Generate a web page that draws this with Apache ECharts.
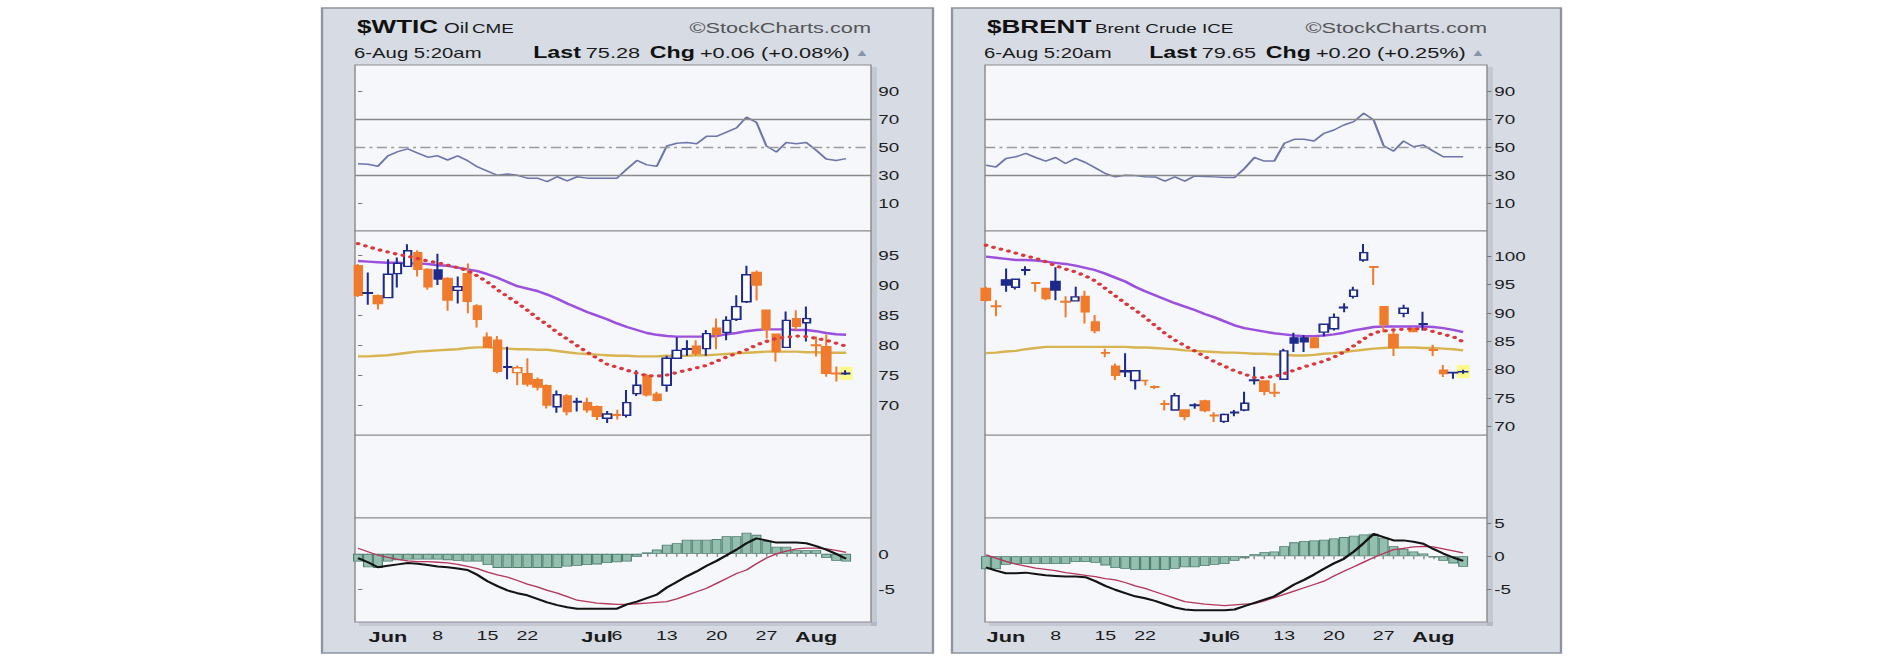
<!DOCTYPE html>
<html><head><meta charset="utf-8"><title>$WTIC / $BRENT</title>
<script src="https://cdn.jsdelivr.net/npm/echarts@6.0.0/dist/echarts.min.js"></script>
<style>
html,body{margin:0;padding:0;background:#ffffff;width:1886px;height:662px;overflow:hidden}
#stretch{position:absolute;left:0;top:0;height:662px;transform-origin:0 0}
#chart{width:100%;height:100%}
</style></head><body>
<div id="stretch"><div id="chart"></div></div>
<script>
// ---------------- data ----------------
const dates = ['May 27','May 28','May 29','Jun 1','Jun 2','Jun 3','Jun 4','Jun 5','Jun 8','Jun 9','Jun 10','Jun 11','Jun 12','Jun 15','Jun 16','Jun 17','Jun 18','Jun 22','Jun 23','Jun 24','Jun 25','Jun 26','Jun 29','Jun 30','Jul 1','Jul 2','Jul 6','Jul 7','Jul 8','Jul 9','Jul 10','Jul 13','Jul 14','Jul 15','Jul 16','Jul 17','Jul 20','Jul 21','Jul 22','Jul 23','Jul 24','Jul 27','Jul 28','Jul 29','Jul 30','Jul 31','Aug 3','Aug 4','Aug 5','Aug 6'];
const tickDates = ['Jun 1','Jun 8','Jun 15','Jun 22','Jul 1','Jul 6','Jul 13','Jul 20','Jul 27','Aug 3'];
const tickTexts = ['Jun','8','15','22','Jul','6','13','20','27','Aug'];
const stampText = '6-Aug 5:20am';
const rsiTicks = [10,30,50,70,90];

// $WTIC  (Oil, CME)
const wtiOpen  = [93.2,88.7,88.2,87.9,91.9,93.1,95.4,92.6,92.5,91.1,89.1,91.9,86.5,81.3,80.8,76.3,75.4,75.2,74.2,73.2,69.7,71.5,70.5,70.4,69.7,67.8,68.4,68.3,71.9,74.9,71.8,73.3,77.8,79.3,79.8,79.4,82.8,82.1,84.3,87.2,92.1,85.8,81.8,79.6,84.4,83.7,80.0,79.7,75.3,75.2];
const wtiClose = [88.3,88.6,86.9,91.8,93.6,95.7,92.6,89.7,91.0,87.5,89.7,87.3,84.3,79.6,75.6,76.4,76.2,73.5,73.0,70.0,71.7,68.9,70.6,69.2,68.1,68.5,68.3,70.4,73.3,71.7,70.8,77.8,79.1,79.4,78.6,81.9,81.8,84.1,86.4,91.7,90.0,82.6,78.9,84.1,83.1,84.4,79.9,75.3,75.22,75.28];
const wtiLow   = [88.0,86.7,85.9,87.8,89.6,93.0,91.4,89.2,90.0,85.7,86.9,85.3,82.9,79.5,75.3,74.3,73.3,73.1,72.4,69.4,68.7,68.3,68.9,68.7,67.5,67.0,67.6,67.9,71.5,71.4,70.6,72.2,77.8,78.2,78.2,78.2,79.3,80.8,84.0,87.0,87.4,81.1,77.2,79.6,82.5,80.6,78.1,74.7,73.9,75.0];
const wtiHigh  = [93.5,92.1,88.4,94.3,94.6,96.8,95.8,92.8,95.2,91.3,91.4,93.6,86.8,82.1,81.5,79.7,76.6,77.8,74.6,73.4,72.4,71.8,71.2,71.2,69.9,69.0,69.2,72.5,75.8,75.2,72.2,78.2,81.3,80.8,80.8,82.5,84.4,84.8,88.3,93.2,92.4,85.8,81.8,85.6,85.8,86.4,81.4,81.7,76.4,75.8];
const wtiSma50  = [94.0,93.9,93.8,93.7,93.7,93.6,93.6,93.5,93.3,93.2,92.9,92.6,92.3,91.8,91.2,90.5,89.8,89.4,89.0,88.4,87.7,86.9,86.2,85.5,84.9,84.3,83.6,83.0,82.5,82.0,81.7,81.5,81.4,81.4,81.4,81.4,81.5,81.8,82.0,82.3,82.5,82.6,82.6,82.6,82.5,82.5,82.3,82.0,81.8,81.7];
const wtiSma200 = [78.1,78.1,78.2,78.3,78.5,78.7,78.9,79.0,79.1,79.2,79.3,79.5,79.6,79.6,79.5,79.4,79.3,79.3,79.2,79.2,79.0,78.8,78.6,78.5,78.4,78.3,78.2,78.2,78.1,78.1,78.1,78.2,78.2,78.2,78.3,78.3,78.4,78.5,78.6,78.7,78.8,78.9,78.9,78.9,78.9,78.8,78.8,78.7,78.7,78.7];
const wtiEma20  = [96.9,96.4,95.9,95.5,95.1,94.8,94.4,94.0,93.7,93.3,92.9,92.4,91.5,90.5,89.2,88.1,87.0,85.8,84.5,83.4,82.1,81.0,79.9,78.8,77.8,76.8,76.3,75.8,75.3,74.9,74.8,75.0,75.4,75.8,76.2,76.6,77.3,78.0,78.6,79.2,80.0,80.6,81.1,81.3,81.5,81.4,81.1,80.8,80.3,79.8];
const wtiRsi    = [38.3,38,36.5,44,47,49,46,43,44,41,44,40.5,36,33,30,31,30,28,28,25.5,29,26,29,28,28,28,28,34.5,40.7,37.5,36.5,51,53,53.6,52.6,58,58,61,64,71.7,68,51,46.7,53.6,52.6,53.6,48,41.7,40.7,42];
const wtiMacd   = [-0.6,-1.2,-1.9,-1.7,-1.5,-1.3,-1.4,-1.6,-1.8,-1.9,-2.1,-2.3,-3.0,-3.9,-4.6,-5.2,-5.6,-5.9,-6.4,-6.9,-7.3,-7.6,-7.8,-7.8,-7.8,-7.8,-7.8,-7.2,-6.8,-6.3,-5.8,-4.8,-4.0,-3.2,-2.5,-1.7,-1.0,-0.2,0.6,1.5,2.2,1.9,1.6,1.6,1.6,1.5,1.1,0.6,0.0,-0.7];
const wtiSignal = [0.8,0.3,-0.2,-0.5,-0.8,-1.0,-1.1,-1.1,-1.2,-1.3,-1.5,-1.8,-2.1,-2.6,-3.0,-3.3,-3.8,-4.3,-4.7,-5.2,-5.6,-6.1,-6.6,-6.8,-7.0,-7.1,-7.2,-7.2,-7.1,-7.0,-6.9,-6.8,-6.4,-5.9,-5.4,-4.9,-4.2,-3.5,-2.8,-2.3,-1.4,-0.6,0.0,0.4,0.7,0.8,0.8,0.7,0.5,0.2];
const wtiHist   = [-1.1,-1.9,-2.0,-1.1,-0.9,-0.8,-0.8,-0.8,-0.8,-0.9,-1.0,-1.1,-1.1,-1.6,-2.0,-2.0,-2.0,-2.0,-2.0,-2.0,-2.0,-1.8,-1.7,-1.6,-1.5,-1.3,-1.2,-1.1,-0.4,0.2,0.6,1.3,1.5,2.0,2.0,2.0,2.1,2.5,2.5,3.0,2.7,1.8,1.0,1.0,0.5,0.5,0.5,-0.6,-1.0,-1.1];

// $BRENT  (Brent Crude, ICE) - first session not shown
const brOpen  = [null,94.3,91.2,95.8,94.5,97.6,95.3,94.3,95.5,92.0,92.1,92.9,88.4,83.0,80.6,79.8,78.1,78.1,77.0,74.0,72.9,72.9,73.8,74.5,72.0,70.9,72.5,72.9,78.2,78.0,76.0,78.3,85.6,85.6,85.6,86.6,87.2,91.0,92.9,99.3,98.1,91.1,86.2,89.9,87.2,88.1,83.5,79.9,79.5,79.6];
const brClose = [null,92.2,91.1,94.9,95.9,97.5,95.2,92.5,94.0,91.9,92.8,90.2,86.9,82.9,79.0,79.6,79.8,78.1,76.9,73.9,75.4,71.8,73.7,72.8,71.9,72.1,72.4,74.1,78.1,76.2,75.9,83.3,84.7,84.9,83.9,88.0,89.2,90.9,94.0,100.6,98.0,88.0,83.9,90.8,86.7,88.0,83.4,79.3,79.45,79.65];
const brLow   = [null,92.0,89.4,93.7,94.1,96.6,93.7,92.2,92.2,89.2,92.1,88.1,86.4,82.2,78.2,78.7,76.5,77.2,76.6,72.8,72.9,71.1,73.1,72.5,70.8,70.6,71.8,72.7,77.4,75.5,75.2,78.3,83.1,83.1,83.9,85.9,86.9,90.1,92.5,99.0,94.9,86.6,82.4,89.2,86.6,86.9,82.4,78.7,78.4,79.3];
const brHigh  = [null,94.6,92.2,97.8,96.0,98.2,95.4,94.4,98.0,92.9,94.6,93.9,89.6,83.7,81.1,82.9,79.9,78.2,77.2,74.6,75.9,72.9,74.1,74.7,72.5,72.3,72.9,76.1,80.5,78.0,77.6,83.7,86.5,86.1,85.6,88.0,89.9,91.7,94.6,102.1,98.2,91.1,86.9,91.4,87.2,90.2,84.4,80.8,79.6,80.0];
const brSma50  = [null,99.9,99.7,99.5,99.3,99.3,99.2,99.0,98.8,98.6,98.3,97.9,97.5,96.9,96.2,95.5,94.6,93.8,93.1,92.4,91.7,91.1,90.5,89.8,89.2,88.5,87.8,87.3,87.0,86.7,86.4,86.2,86.0,85.9,85.9,86.0,86.2,86.5,86.9,87.2,87.5,87.6,87.6,87.6,87.6,87.6,87.5,87.3,87.0,86.6];
const brSma200 = [null,82.9,83.0,83.2,83.3,83.6,83.8,84.0,84.0,84.0,84.0,84.0,84.0,84.0,84.0,84.0,83.9,83.9,83.8,83.7,83.6,83.4,83.3,83.2,83.1,83.0,83.0,82.9,82.8,82.8,82.7,82.6,82.5,82.5,82.6,82.8,82.9,83.1,83.3,83.5,83.7,83.8,83.9,83.9,83.9,83.8,83.8,83.7,83.6,83.4];
const brEma20  = [null,101.9,101.4,101.0,100.5,100.0,99.6,99.0,98.3,97.7,97.2,96.5,95.6,94.3,93.0,91.7,90.5,89.2,87.8,86.4,85.2,84.2,83.3,82.3,81.4,80.6,79.8,79.2,78.6,78.6,78.8,79.3,79.9,80.5,81.0,81.5,82.2,83.1,84.2,85.4,86.5,86.8,87.0,87.1,87.2,87.2,86.7,86.2,85.8,84.9];
const brRsi    = [null,37.3,36,42.1,43.3,45.7,42.8,40.2,42.8,38.5,42.1,39.2,35.4,31.3,28.9,30.1,29.8,29.0,28.9,25.8,28.9,25.8,29.6,29.2,28.9,28.4,28.4,34.9,42.8,40.2,40.2,52.9,55.8,55.8,54.6,60.1,62.5,66.1,68.5,74.5,69.7,51.2,47.4,54.6,50.5,51.7,47.4,43.3,43.3,43.3];
const brMacd   = [null,-1.7,-2.2,-2.6,-2.6,-2.5,-2.7,-2.9,-3.0,-3.1,-3.1,-3.2,-3.8,-4.5,-5.1,-5.6,-6.1,-6.4,-6.8,-7.3,-7.8,-8.1,-8.2,-8.2,-8.2,-8.2,-8.1,-7.6,-7.1,-6.6,-6.1,-5.2,-4.3,-3.6,-2.8,-1.9,-1.1,-0.4,0.7,2.0,3.4,2.9,2.4,2.4,2.2,1.9,1.1,0.4,-0.2,-0.7];
const brSignal = [null,0.2,-0.3,-0.8,-1.2,-1.5,-1.8,-2.0,-2.2,-2.5,-2.7,-2.9,-3.1,-3.4,-3.6,-4.0,-4.5,-4.9,-5.4,-5.9,-6.4,-6.9,-7.1,-7.3,-7.4,-7.5,-7.4,-7.3,-7.2,-6.8,-6.3,-5.8,-5.3,-4.8,-4.3,-3.8,-3.0,-2.3,-1.6,-0.9,-0.2,0.4,1.0,1.2,1.4,1.5,1.4,1.1,0.8,0.5];
const brHist   = [null,-2.0,-2.0,-1.3,-1.2,-1.2,-1.2,-1.2,-1.2,-1.2,-0.9,-0.9,-1.0,-1.4,-1.8,-1.9,-2.1,-2.1,-2.1,-2.1,-1.9,-1.7,-1.7,-1.5,-1.3,-1.2,-0.7,-0.3,0.3,0.6,0.7,1.5,2.1,2.3,2.4,2.5,2.7,2.9,3.1,3.3,3.4,2.8,1.5,1.1,0.7,0.4,-0.2,-0.7,-1.1,-1.6];

// ---------------- layout / style ----------------
const PAGE_W = 1886, CHART_W = 1300, S = PAGE_W / CHART_W;   // the reference is stretched horizontally
const X = v => v / S;
const FONT = '"Liberation Sans", Arial, Helvetica, sans-serif';
const BLUE = '#1c2a8c', ORANGE = '#f07b2c';
const PLOT_BG = '#f6f7fb', PLOT_BORDER = '#8c8c8c';

const wrap = document.getElementById('stretch');
wrap.style.width = CHART_W + 'px';
wrap.style.transform = 'scaleX(' + S + ')';

const panels = [
  { frameL:322, frameR:933, plotL:355, plotR:871, xMin:-0.3, xMax:51.5,
    priceMin:65, priceMax:99, priceTicks:[70,75,80,85,90,95],
    macdMin:-9.7, macdMax:5.1, macdTicks:[-5,0],
    symbol:'$WTIC', name:'Oil', exch:'CME', nameX:444, exchX:472, nameSize:14,
    open:wtiOpen, close:wtiClose, low:wtiLow, high:wtiHigh,
    sma50:wtiSma50, sma200:wtiSma200, ema20:wtiEma20, rsi:wtiRsi, macd:wtiMacd, signal:wtiSignal, hist:wtiHist },
  { frameL:952, frameR:1561, plotL:985, plotR:1487, xMin:0.9, xMax:51.4,
    priceMin:68.5, priceMax:104.4, priceTicks:[70,75,80,85,90,95,100],
    macdMin:-10, macdMax:5.8, macdTicks:[-5,0,5],
    symbol:'$BRENT', name:'Brent Crude', exch:'ICE', nameX:1095, exchX:1202, nameSize:13,
    open:brOpen, close:brClose, low:brLow, high:brHigh,
    sma50:brSma50, sma200:brSma200, ema20:brEma20, rsi:brRsi, macd:brMacd, signal:brSignal, hist:brHist }
];

const dayIdx = dates.map((d, i) => i);
const labelIdx = tickDates.map(d => dates.indexOf(d));
function xLabel(v) {
  const i = Math.round(v);
  const k = labelIdx.indexOf(i);
  if (k < 0) return '';
  const t = tickTexts[k];
  return /[A-Za-z]/.test(t) ? '{m|' + t + '}' : '{n|' + t + '}';
}
const pts = arr => arr.map((v, i) => v == null ? null : [i, v]).filter(Boolean);

const grids = [], xAxes = [], yAxes = [], series = [], graphics = [];

function text(x, y, str, font, fill, align, extra) {
  return Object.assign({ type:'text', x:X(x), y:y, z:10, silent:true,
    style:{ text:str, font:font, fill:fill, textAlign:align || 'left', textVerticalAlign:'middle', align:align || 'left', verticalAlign:'middle' } }, extra || {});
}

panels.forEach((P, p) => {
  const L = X(P.plotL), Wd = X(P.plotR - P.plotL);
  const rows = [
    { top:65,  h:166, min:-9.9, max:109.1, ticks:rsiTicks },
    { top:231, h:204, min:P.priceMin, max:P.priceMax, ticks:P.priceTicks },
    { top:518, h:104, min:P.macdMin, max:P.macdMax, ticks:P.macdTicks }
  ];
  const base = grids.length;
  rows.forEach((r, k) => {
    const gi = grids.length;
    grids.push({ left:L, top:r.top, width:Wd, height:r.h, show:true, backgroundColor:PLOT_BG,
      borderColor:PLOT_BORDER, borderWidth:1, containLabel:false, outerBoundsMode:'none' });
    xAxes.push({ type:'value', gridIndex:gi, min:P.xMin, max:P.xMax, show:k === 2, position:'bottom',
      axisLine:{ show:false }, splitLine:{ show:false },
      axisTick:{ show:true, length:3, customValues:dayIdx, lineStyle:{ color:'#8a8a8a', width:1 } },
      axisLabel:{ show:true, customValues:labelIdx, margin:7, formatter:xLabel, color:'#1a1a1a',
        rich:{ m:{ fontFamily:FONT, fontWeight:'bold', fontSize:15, color:'#1a1a1a' },
               n:{ fontFamily:FONT, fontSize:13.5, color:'#1a1a1a' } } } });
    yAxes.push({ type:'value', gridIndex:gi, position:'right', min:r.min, max:r.max,
      axisLine:{ show:false }, splitLine:{ show:false },
      axisTick:{ show:true, length:3, customValues:r.ticks, lineStyle:{ color:'#777', width:1 } },
      axisLabel:{ show:true, customValues:r.ticks, margin:5, color:'#1e1e1e', fontSize:13, fontFamily:FONT } });
  });
  const gR = base, gP = base + 1, gM = base + 2;

  // RSI
  series.push({ type:'line', xAxisIndex:gR, yAxisIndex:gR, data:pts(P.rsi), symbol:'none', z:3,
    lineStyle:{ color:'#6d75aa', width:1.5 },
    markLine:{ silent:true, symbol:'none', animation:false, label:{ show:false },
      data:[ { yAxis:70, lineStyle:{ color:'#8a8a8a', width:1.4, type:'solid' } },
             { yAxis:30, lineStyle:{ color:'#8a8a8a', width:1.4, type:'solid' } },
             { yAxis:50, lineStyle:{ color:'#9a9a9a', width:1.3, type:[7,3,2,3] } } ] } });

  // price: candles coloured by close vs previous close, hollow when close > open
  const candles = [];
  let lastI = -1;
  P.close.forEach((c, i) => {
    if (c == null) return;
    const o = P.open[i];
    const prev = (i > 0 && P.close[i - 1] != null) ? P.close[i - 1] : o;
    const col = c >= prev ? BLUE : ORANGE;
    const fill = c > o ? '#ffffff' : col;
    candles.push({ value:[i, o, c, P.low[i], P.high[i]],
      itemStyle:{ color:fill, color0:fill, borderColor:col, borderColor0:col } });
    lastI = i;
  });
  series.push({ type:'scatter', xAxisIndex:gP, yAxisIndex:gP, z:1, silent:true,
    data:[[lastI, P.close[lastI]]], symbol:'rect', symbolSize:[X(13), 13],
    itemStyle:{ color:'#fbf98a', opacity:1 } });
  series.push({ type:'line', xAxisIndex:gP, yAxisIndex:gP, data:pts(P.sma200), symbol:'none', z:2,
    lineStyle:{ color:'#d8b450', width:2.4 } });
  series.push({ type:'line', xAxisIndex:gP, yAxisIndex:gP, data:pts(P.sma50), symbol:'none', z:2,
    lineStyle:{ color:'#9b50de', width:2.4 } });
  series.push({ type:'candlestick', xAxisIndex:gP, yAxisIndex:gP, data:candles, barWidth:X(8.5), z:3,
    itemStyle:{ borderWidth:1.4 } });
  series.push({ type:'line', xAxisIndex:gP, yAxisIndex:gP, data:pts(P.ema20), symbol:'none', z:4,
    lineStyle:{ color:'#d9393c', width:3.2, type:[0.1, 5.4], cap:'round' } });

  // MACD
  series.push({ type:'bar', xAxisIndex:gM, yAxisIndex:gM, data:pts(P.hist), barWidth:'100%', z:2,
    itemStyle:{ color:'#94bfae', borderColor:'#4f7f70', borderWidth:0.8 } });
  series.push({ type:'line', xAxisIndex:gM, yAxisIndex:gM, data:pts(P.signal), symbol:'none', z:3,
    lineStyle:{ color:'#b5385c', width:1.3 } });
  series.push({ type:'line', xAxisIndex:gM, yAxisIndex:gM, data:pts(P.macd), symbol:'none', z:4,
    lineStyle:{ color:'#141414', width:2 } });

  // frame, empty middle panel, shadows
  graphics.push({ type:'rect', z:-3, silent:true,
    shape:{ x:X(P.frameL), y:8, width:X(P.frameR - P.frameL), height:645 },
    style:{ fill:'#d6dbe4', stroke:'#8f959f', lineWidth:1.6 } });
  graphics.push({ type:'rect', z:-2, silent:true,
    shape:{ x:X(P.plotR), y:67, width:X(6), height:559 },
    style:{ fill:'rgba(70,80,100,0.13)' } });
  graphics.push({ type:'rect', z:-2, silent:true,
    shape:{ x:X(P.plotL + 4), y:622, width:X(P.plotR - P.plotL + 2), height:4 },
    style:{ fill:'rgba(70,80,100,0.13)' } });
  graphics.push({ type:'rect', z:-1, silent:true,
    shape:{ x:L, y:435, width:Wd, height:83 },
    style:{ fill:PLOT_BG, stroke:PLOT_BORDER, lineWidth:1 } });

  // header texts
  const last = P.close[lastI], prevC = P.close[lastI - 1];
  const chg = last - prevC, pct = chg / prevC * 100;
  const sg = v => (v >= 0 ? '+' : '') + v.toFixed(2);
  graphics.push(text(P.plotL + 2, 26.5, P.symbol, 'bold 18px ' + FONT, '#111'));
  graphics.push(text(P.nameX, 28, P.name, P.nameSize + 'px ' + FONT, '#1a1a1a'));
  graphics.push(text(P.exchX, 28.5, P.exch, '13px ' + FONT, '#1a1a1a'));
  graphics.push(text(P.plotR, 28, '\u00A9StockCharts.com', '15px ' + FONT, '#555', 'right'));
  graphics.push(text(P.plotL - 1, 53, stampText, '14px ' + FONT, '#1a1a1a'));
  graphics.push({ type:'text', x:X(P.plotR - 2), y:52.5, z:10, silent:true,
    style:{ text:'{b|Last} {n|' + last.toFixed(2) + '}  {b|Chg} {n|' + sg(chg) + ' (' + sg(pct) + '%)} {t|\u25B2}',
      textAlign:'right', align:'right', textVerticalAlign:'middle', verticalAlign:'middle',
      rich:{ b:{ font:'bold 16px ' + FONT, fill:'#111' },
             n:{ font:'15px ' + FONT, fill:'#1a1a1a' },
             t:{ font:'10px ' + FONT, fill:'#8596ad' } } } });
});

const chart = echarts.init(document.getElementById('chart'), null, { renderer:'svg', width:CHART_W, height:662 });
chart.setOption({
  animation:false,
  backgroundColor:'#ffffff',
  textStyle:{ fontFamily:FONT },
  grid:grids, xAxis:xAxes, yAxis:yAxes, series:series,
  graphic:{ elements:graphics }
});
</script></body></html>
